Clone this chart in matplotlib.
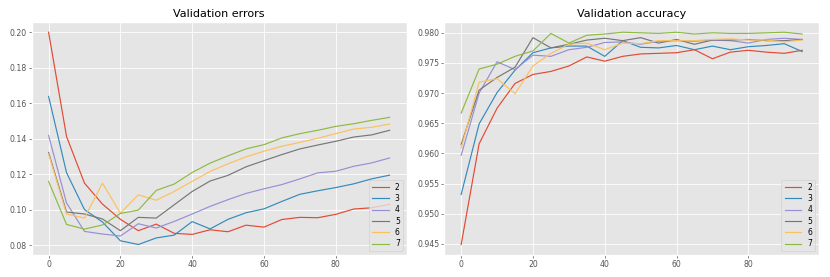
# validation curves for different model sizes, errors on left and accuracy on right
import numpy as np
import matplotlib
matplotlib.use("Agg")
import matplotlib.pyplot as plt

plt.style.use("ggplot")

epochs = [0, 5, 10, 15, 20, 25, 30, 35, 40, 45, 50, 55, 60, 65, 70, 75, 80, 85, 90, 95]
labels = ["2", "3", "4", "5", "6", "7"]

# validation errors, one list per model
err_2 = [0.2000, 0.1412, 0.1149, 0.1031, 0.0945, 0.0881, 0.0918, 0.0866, 0.0860, 0.0886,
         0.0875, 0.0912, 0.0901, 0.0944, 0.0956, 0.0954, 0.0973, 0.1003, 0.1010, 0.1029]
err_3 = [0.1638, 0.1208, 0.1000, 0.0930, 0.0824, 0.0803, 0.0840, 0.0856, 0.0932, 0.0891,
         0.0945, 0.0982, 0.1004, 0.1046, 0.1086, 0.1106, 0.1124, 0.1145, 0.1173, 0.1194]
err_4 = [0.1418, 0.1037, 0.0877, 0.0862, 0.0851, 0.0920, 0.0896, 0.0933, 0.0975, 0.1018,
         0.1056, 0.1091, 0.1117, 0.1141, 0.1173, 0.1207, 0.1216, 0.1244, 0.1263, 0.1291]
err_5 = [0.1322, 0.0986, 0.0975, 0.0947, 0.0881, 0.0956, 0.0952, 0.1027, 0.1102, 0.1161,
         0.1193, 0.1241, 0.1276, 0.1310, 0.1342, 0.1364, 0.1385, 0.1409, 0.1421, 0.1447]
err_6 = [0.1314, 0.0975, 0.0952, 0.1149, 0.0980, 0.1083, 0.1053, 0.1102, 0.1159, 0.1215,
         0.1258, 0.1297, 0.1329, 0.1357, 0.1379, 0.1402, 0.1428, 0.1454, 0.1464, 0.1482]
err_7 = [0.1159, 0.0916, 0.0890, 0.0913, 0.0978, 0.0997, 0.1108, 0.1144, 0.1209, 0.1262,
         0.1303, 0.1342, 0.1366, 0.1404, 0.1428, 0.1447, 0.1469, 0.1484, 0.1503, 0.1520]

# validation accuracy
acc_2 = [0.9449, 0.9616, 0.9675, 0.9716, 0.9731, 0.9736, 0.9745, 0.9760, 0.9753, 0.9761,
         0.9765, 0.9766, 0.9767, 0.9772, 0.9757, 0.9768, 0.9771, 0.9768, 0.9766, 0.9771]
acc_3 = [0.9532, 0.9649, 0.9701, 0.9738, 0.9767, 0.9775, 0.9778, 0.9778, 0.9761, 0.9787,
         0.9776, 0.9775, 0.9779, 0.9772, 0.9778, 0.9772, 0.9777, 0.9779, 0.9782, 0.9769]
acc_4 = [0.9597, 0.9700, 0.9752, 0.9739, 0.9763, 0.9761, 0.9772, 0.9776, 0.9784, 0.9785,
         0.9781, 0.9786, 0.9787, 0.9786, 0.9788, 0.9787, 0.9783, 0.9789, 0.9791, 0.9789]
acc_5 = [0.9615, 0.9705, 0.9726, 0.9743, 0.9792, 0.9775, 0.9781, 0.9788, 0.9791, 0.9787,
         0.9792, 0.9783, 0.9789, 0.9781, 0.9788, 0.9788, 0.9789, 0.9787, 0.9787, 0.9789]
acc_6 = [0.9609, 0.9718, 0.9724, 0.9699, 0.9745, 0.9766, 0.9781, 0.9783, 0.9772, 0.9783,
         0.9782, 0.9787, 0.9787, 0.9787, 0.9789, 0.9790, 0.9788, 0.9788, 0.9785, 0.9788]
acc_7 = [0.9667, 0.9740, 0.9748, 0.9761, 0.9770, 0.9799, 0.9783, 0.9796, 0.9798, 0.9801,
         0.9800, 0.9799, 0.9801, 0.9798, 0.9800, 0.9799, 0.9799, 0.9800, 0.9801, 0.9798]

errors = [err_2, err_3, err_4, err_5, err_6, err_7]
accs = [acc_2, acc_3, acc_4, acc_5, acc_6, acc_7]

fig, (ax1, ax2) = plt.subplots(1, 2, figsize=(8.3, 2.77), dpi=100)
fig.subplots_adjust(left=0.038, right=0.987, bottom=0.079, top=0.922, wspace=0.1)

for lab, e in zip(labels, errors):
    ax1.plot(epochs, e, label=lab, linewidth=0.85)
for lab, a in zip(labels, accs):
    ax2.plot(epochs, a, label=lab, linewidth=0.85)

ax1.set_title("Validation errors", fontsize=8, pad=3)
ax2.set_title("Validation accuracy", fontsize=8, pad=3)

for ax in (ax1, ax2):
    ax.tick_params(labelsize=5.6, length=2, width=0.5, pad=1.5)
    ax.grid(True, color="white", linewidth=0.6)
    ax.legend(loc="lower right", fontsize=5.5, handlelength=2.2, labelspacing=0.3,
              borderpad=0.4, handletextpad=0.8)

ax1.set_xticks([0, 20, 40, 60, 80])
ax2.set_xticks([0, 20, 40, 60, 80])
ax1.set_yticks([0.08, 0.10, 0.12, 0.14, 0.16, 0.18, 0.20])
ax2.set_yticks([0.945, 0.950, 0.955, 0.960, 0.965, 0.970, 0.975, 0.980])

plt.savefig("out.png", dpi=100)
